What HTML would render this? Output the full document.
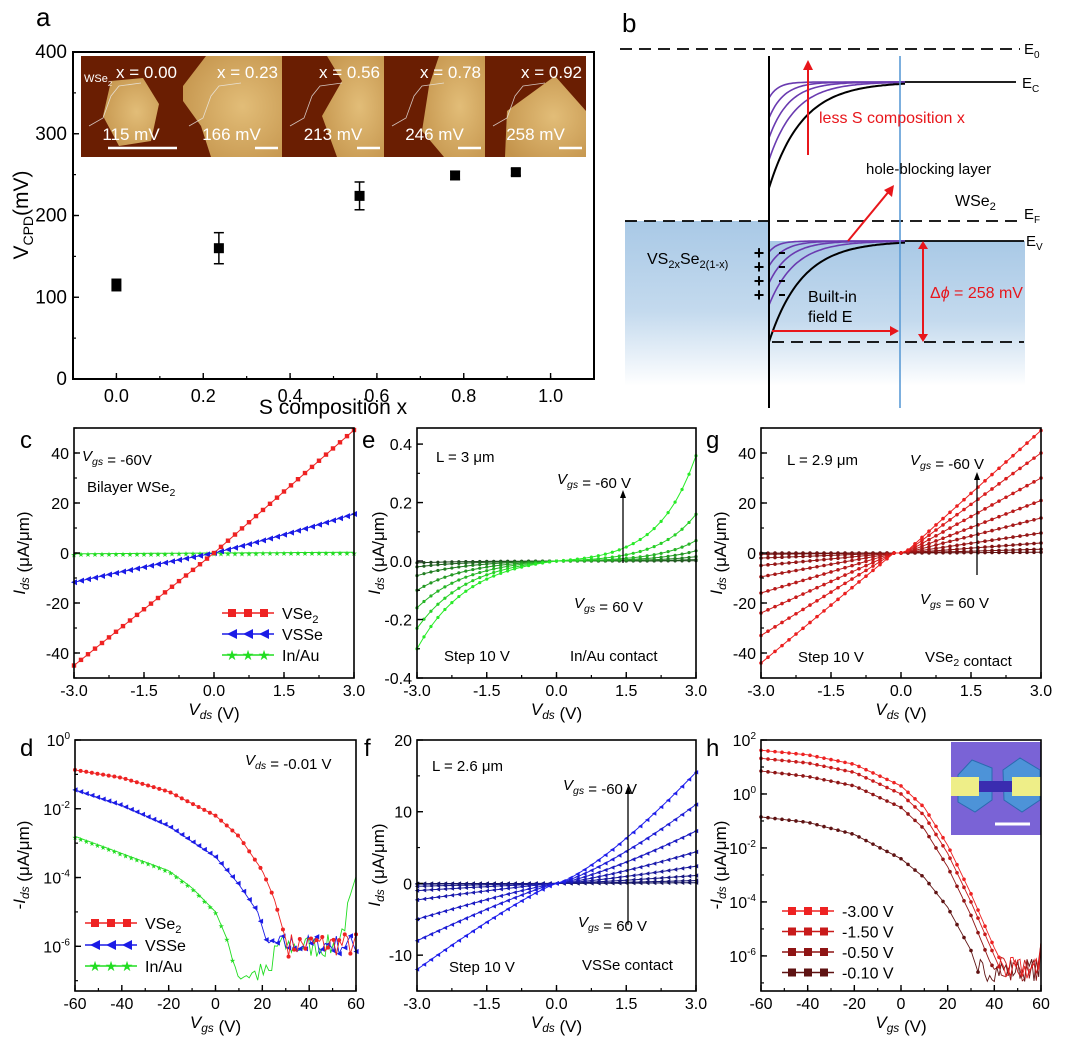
<!DOCTYPE html>
<html><head><meta charset="utf-8"><style>
html,body{margin:0;padding:0;background:#fff}
svg{display:block;font-family:"Liberation Sans",Arial,sans-serif}
</style></head><body>
<svg id="s" width="1067" height="1052" viewBox="0 0 1067 1052" xmlns="http://www.w3.org/2000/svg">
<defs>
<linearGradient id="bl" x1="0" y1="0" x2="0" y2="1"><stop offset="0" stop-color="#a9c9e6"/><stop offset="0.55" stop-color="#c4daee"/><stop offset="1" stop-color="#ffffff"/></linearGradient>
<radialGradient id="gd" cx="0.6" cy="0.5" r="0.7"><stop offset="0" stop-color="#e2bd78"/><stop offset="1" stop-color="#c4944c"/></radialGradient>
</defs>
</svg>
<script>
const NS='http://www.w3.org/2000/svg';
const svg=document.getElementById('s');
let H='';
function add(s){H+=s;}
function mk(x0,x1,y0,y1,xa,xb,ya,yb){return{x0,x1,y0,y1,xa,xb,ya,yb,
X:v=>x0+(v-xa)/(xb-xa)*(x1-x0),Y:v=>y1-(v-ya)/(yb-ya)*(y1-y0)};}
let seed=7;function rnd(){seed=(seed*16807)%2147483647;return seed/2147483647;}
function frame(P,sw){add(`<rect x="${P.x0}" y="${P.y0}" width="${P.x1-P.x0}" height="${P.y1-P.y0}" fill="none" stroke="#000" stroke-width="${sw}"/>`);}
function xt(P,maj,mino,fmt,fs,dy){for(const v of mino){const x=P.X(v);add(`<line x1="${x}" y1="${P.y1}" x2="${x}" y2="${P.y1-3}" stroke="#000" stroke-width="1.2"/>`);}
for(const v of maj){const x=P.X(v);add(`<line x1="${x}" y1="${P.y1}" x2="${x}" y2="${P.y1-6}" stroke="#000" stroke-width="1.4"/><text x="${x}" y="${P.y1+dy}" font-size="${fs}" text-anchor="middle">${fmt(v)}</text>`);}}
function yt(P,maj,mino,fmt,fs,dx){for(const v of mino){const y=P.Y(v);add(`<line x1="${P.x0}" y1="${y}" x2="${P.x0+3}" y2="${y}" stroke="#000" stroke-width="1.2"/>`);}
for(const v of maj){const y=P.Y(v);add(`<line x1="${P.x0}" y1="${y}" x2="${P.x0+6}" y2="${y}" stroke="#000" stroke-width="1.4"/><text x="${P.x0-dx}" y="${y+6}" font-size="${fs}" text-anchor="end">${fmt(v)}</text>`);}}
function rng(a,b,s){const r=[];for(let v=a;v<=b+1e-9;v+=s)r.push(+v.toFixed(6));return r;}
function poly(P,pts,col,w){add(`<polyline fill="none" stroke="${col}" stroke-width="${w}" points="${pts.map(p=>P.X(p[0]).toFixed(1)+','+P.Y(p[1]).toFixed(1)).join(' ')}"/>`);}
function marks(P,pts,col,type,sz,every){pts.forEach((p,i)=>{if(i%every)return;const x=P.X(p[0]),y=P.Y(p[1]);if(y<P.y0-1||y>P.y1+1)return;
if(type=='sq')add(`<rect x="${x-sz}" y="${y-sz}" width="${2*sz}" height="${2*sz}" fill="${col}"/>`);
else if(type=='tri')add(`<polygon points="${x-sz},${y} ${x+sz},${y-sz} ${x+sz},${y+sz}" fill="${col}"/>`);
else if(type=='star')add(`<text x="${x}" y="${y+3.5}" font-size="${sz*3.4}" text-anchor="middle" fill="${col}">★</text>`);
else add(`<circle cx="${x}" cy="${y}" r="${sz}" fill="${col}"/>`);});}
function lerpc(a,b,t){return `rgb(${a.map((v,i)=>Math.round(v+(b[i]-v)*t)).join(',')})`;}
function interp(cp,v){for(let i=0;i<cp.length-1;i++){if(v<=cp[i+1][0]){const t=(v-cp[i][0])/(cp[i+1][0]-cp[i][0]);return cp[i][1]+t*(cp[i+1][1]-cp[i][1]);}}return cp[cp.length-1][1];}
const sub=(t)=>`<tspan font-size="0.7em" dy="4">${t}</tspan><tspan dy="-4"></tspan>`;
const iv=(b,s)=>`<tspan font-style="italic">${b}</tspan><tspan font-style="italic" font-size="0.7em" dy="4">${s}</tspan><tspan dy="-4"></tspan>`;

/* ===== Panel a ===== */
const A=mk(73,594,52,379,-0.1,1.1,0,400);
const tiles=[[81,181,'x = 0.00','115 mV'],[181,282,'x = 0.23','166 mV'],[282,384,'x = 0.56','213 mV'],[384,485,'x = 0.78','246 mV'],[485,586,'x = 0.92','258 mV']];
tiles.forEach((t,i)=>{const x0=t[0],x1=t[1],w=x1-x0,y0=56,y1=157;
add(`<rect x="${x0}" y="${y0}" width="${w}" height="${y1-y0}" fill="#6a1e02"/>`);
let pts;
if(i==0)pts=[[x0+30,y0+25],[x0+62,y0+22],[x0+78,y0+48],[x0+70,y0+85],[x0+38,y0+90],[x0+22,y0+60]];
else if(i==1)pts=[[x0+25,y0],[x1,y0],[x1,y1],[x0+30,y1],[x0+20,y0+70],[x0+2,y0+45],[x0+2,y0+30]];
else if(i==2)pts=[[x0+45,y0],[x1,y0],[x1,y1],[x0+55,y1],[x0+40,y0+60],[x0+60,y0+25]];
else if(i==3)pts=[[x0+55,y0],[x1,y0],[x1,y1],[x0+60,y1],[x0+38,y0+75],[x0+45,y0+30]];
else pts=[[x0+70,y0+20],[x1,y0+55],[x1,y1],[x0+20,y1],[x0+22,y0+55]];
add(`<polygon points="${pts.map(p=>p.join(',')).join(' ')}" fill="url(#gd)"/>`);
add(`<text x="${x1-4}" y="${y0+22}" font-size="17" fill="#fff" text-anchor="end">${t[2]}</text>`);
add(`<text x="${x0+w/2}" y="${y0+84}" font-size="17" fill="#fff" text-anchor="middle">${t[3]}</text>`);
add(`<line x1="${i==0?x0+27:x1-27}" y1="${y0+92}" x2="${x1-4}" y2="${y0+92}" stroke="#fff" stroke-width="2.5"/>`);
add(`<polyline points="${x0+8},${y0+70} ${x0+22},${y0+62} ${x0+30},${y0+40} ${x0+38},${y0+30} ${x0+60},${y0+27}" fill="none" stroke="#eee" stroke-width="0.8" opacity="0.8"/>`);
});
add(`<text x="84" y="82" font-size="11" fill="#fff">WSe${sub('2')}</text>`);
frame(A,2);
xt(A,[0,0.2,0.4,0.6,0.8,1.0],rng(-0.1,1.1,0.1),v=>v.toFixed(1),18,23);
yt(A,[0,100,200,300,400],rng(0,400,50),v=>v,19,6);
[[0,115,7],[0.236,160,19],[0.56,224,17],[0.78,249,5],[0.92,253,4]].forEach(d=>{const x=A.X(d[0]),y=A.Y(d[1]),e1=A.Y(d[1]+d[2]),e2=A.Y(d[1]-d[2]);
add(`<line x1="${x}" y1="${e1}" x2="${x}" y2="${e2}" stroke="#000" stroke-width="1.5"/><line x1="${x-5}" y1="${e1}" x2="${x+5}" y2="${e1}" stroke="#000" stroke-width="1.5"/><line x1="${x-5}" y1="${e2}" x2="${x+5}" y2="${e2}" stroke="#000" stroke-width="1.5"/><rect x="${x-5}" y="${y-5}" width="10" height="10" fill="#000"/>`);});
add(`<text x="333" y="414" font-size="21" text-anchor="middle">S composition x</text>`);
add(`<text transform="translate(28,215) rotate(-90)" font-size="21" text-anchor="middle">V<tspan font-size="14" dy="5">CPD</tspan><tspan dy="-5">(mV)</tspan></text>`);
add(`<text x="36" y="26" font-size="26">a</text><text x="622" y="32" font-size="26">b</text>`);

/* ===== Panel b ===== */
add(`<rect x="625" y="221" width="144" height="165" fill="url(#bl)"/><rect x="769" y="241" width="256" height="145" fill="url(#bl)"/>`);
const dash='stroke="#000" stroke-width="1.8" stroke-dasharray="12,7"';
add(`<line x1="620" y1="49" x2="1020" y2="49" ${dash}/><line x1="625" y1="221" x2="1022" y2="221" ${dash}/><line x1="772" y1="342" x2="1024" y2="342" ${dash}/>`);
add(`<line x1="900" y1="82" x2="1016" y2="82" stroke="#000" stroke-width="1.8"/><line x1="900" y1="241" x2="1024" y2="241" stroke="#000" stroke-width="1.8"/>`);
function bcurve(ys,yf,tau,col,w){let p=[];for(let x=769;x<=905;x+=2){p.push(x+','+(yf+(ys-yf)*Math.exp(-(x-769)/tau)).toFixed(1));}add(`<polyline points="${p.join(' ')}" fill="none" stroke="${col}" stroke-width="${w}"/>`);}
[[98,9],[118,15],[138,20],[160,26]].forEach(c=>bcurve(c[0],82,c[1],'#6a3bb0',1.6));bcurve(188,82,33,'#000',2);
[[252,9],[266,15],[283,20],[305,26]].forEach(c=>bcurve(c[0],241,c[1],'#6a3bb0',1.6));bcurve(342,241,33,'#000',2);
add(`<line x1="769" y1="56" x2="769" y2="408" stroke="#000" stroke-width="2"/><line x1="900" y1="56" x2="900" y2="408" stroke="#5b9bd5" stroke-width="1.6"/>`);
add(`<line x1="808" y1="155" x2="808" y2="68" stroke="#e8161b" stroke-width="2"/><polygon points="803,70 813,70 808,60" fill="#e8161b"/>`);
add(`<line x1="848" y1="241" x2="890" y2="190" stroke="#e8161b" stroke-width="2"/><polygon points="884,190 894,185 892,197" fill="#e8161b"/>`);
add(`<line x1="772" y1="331" x2="892" y2="331" stroke="#e8161b" stroke-width="2"/><polygon points="890,326 899,331 890,336" fill="#e8161b"/>`);
add(`<line x1="923" y1="248" x2="923" y2="335" stroke="#e8161b" stroke-width="2"/><polygon points="918,249 928,249 923,241" fill="#e8161b"/><polygon points="918,334 928,334 923,342" fill="#e8161b"/>`);
add(`<text x="819" y="123" font-size="16" fill="#e8161b">less S composition x</text>`);
add(`<text x="866" y="174" font-size="15">hole-blocking layer</text><text x="955" y="206" font-size="16">WSe${sub('2')}</text>`);
add(`<text x="647" y="264" font-size="16">VS<tspan font-size="11" dy="4">2x</tspan><tspan dy="-4">Se</tspan><tspan font-size="11" dy="4">2(1-x)</tspan></text>`);
add(`<text x="808" y="302" font-size="16">Built-in</text><text x="808" y="322" font-size="16">field E</text>`);
add(`<text x="930" y="298" font-size="16" fill="#e8161b">Δ<tspan font-style="italic">ϕ</tspan> = 258 mV</text>`);
[254,268,282,296].forEach(y=>add(`<text x="759" y="${y+5}" font-size="18" text-anchor="middle" font-weight="bold">+</text><line x1="779" y1="${y-1}" x2="785" y2="${y-1}" stroke="#000" stroke-width="2"/>`));
add(`<text x="1024" y="54" font-size="15">E<tspan font-size="10" dy="4">0</tspan></text><text x="1022" y="88" font-size="15">E<tspan font-size="10" dy="4">C</tspan></text><text x="1024" y="219" font-size="15">E<tspan font-size="10" dy="4">F</tspan></text><text x="1026" y="246" font-size="15">E<tspan font-size="10" dy="4">V</tspan></text>`);

/* ===== lower panels ===== */
const C=mk(74,354,428,678,-3,3,-50,50),E=mk(417,696,428,678,-3,3,-0.4,0.455),G=mk(761,1041,428,678,-3,3,-50,50);
const D=mk(75,356,740,991,-60,60,-7.3,0),F=mk(417,696,740,991,-3,3,-15,20),Hh=mk(761,1041,740,991,-60,60,-7.3,2);
const vx=[-3,-1.5,0,1.5,3],vm=rng(-3,3,0.75),fv=v=>v.toFixed(1);
const FS=16;
let p1=[],p2=[],p3=[];for(let v=-3;v<=3.001;v+=0.15){p1.push([v,v>=0?v*16.4:v*15]);p2.push([v,v>=0?v*4.6+v*v*0.2:v*3.6+ -v*v*0.1]);p3.push([v,0.1*v]);}
poly(C,p3,'#22dd22',1);marks(C,p3,'#22dd22','star',2.2,1);poly(C,p2,'#1b1be6',1);marks(C,p2,'#1b1be6','tri',3,1);poly(C,p1,'#ee2222',1);marks(C,p1,'#ee2222','sq',2.2,1);
const EP=[0.36,0.16,0.07,0.035,0.015,0.005,0.001],EN=[0.3,0.23,0.16,0.1,0.05,0.02,0.006];
for(let k=6;k>=0;k--){let p=[];for(let v=-3;v<=3.001;v+=0.15){p.push([v,v>=0?EP[k]*(Math.exp(1.25*v)-1)/(Math.exp(3.75)-1):-EN[k]*(Math.exp(-0.9*v)-1)/(Math.exp(2.7)-1)]);}
const c=lerpc([40,235,40],[30,70,30],k/6);poly(E,p,c,1);marks(E,p,c,'dot',1.6,1);}
const GP=[49,40,30,21,14,8,4,1.5,0.3],GN=[44,33,24,16,9.5,5,2,0.5,0.05];
for(let k=8;k>=0;k--){let p=[];for(let v=-3;v<=3.001;v+=0.15){p.push([v,v>=0?GP[k]*Math.max(0,v-0.08)/2.92:-GN[k]*Math.max(0,-v-0.15)/2.85]);}
const c=lerpc([235,30,30],[95,15,15],k/8);poly(G,p,c,1);marks(G,p,c,'dot',1.8,1);}
const FP=[15.5,11,7.3,4.4,2.4,1.1,0.4,0.1],FN=[12,8,5,2.3,1,0.4,0.1,0.02];
for(let k=7;k>=0;k--){let p=[];for(let v=-3;v<=3.001;v+=0.15){p.push([v,v>=0?FP[k]*Math.pow(v/3,1.3):-FN[k]*Math.pow(-v/3,1.15)]);}
const c=lerpc([30,30,235],[20,20,90],k/7);poly(F,p,c,1);marks(F,p,c,'tri',2.2,1);}
function logc(cp,ymax,noiseStart,noiseLvl,amp,step){let p=[];for(let v=-60;v<=60.001;v+=step){let y;if(v<noiseStart)y=interp(cp,v);else y=(typeof noiseLvl=='function'?noiseLvl(v):noiseLvl)+(rnd()-0.5)*amp;p.push([v,Math.max(-7.3,Math.min(ymax,y))]);}return p;}
const dr=logc([[-60,-0.87],[-40,-1.1],[-20,-1.5],[0,-2.2],[10,-2.8],[20,-3.8],[25,-4.6],[30,-5.8]],0,31,-5.95,0.7,1.2);
const db=logc([[-60,-1.45],[-40,-1.9],[-20,-2.5],[0,-3.4],[10,-4.2],[18,-5],[22,-5.9]],0,23,-5.95,0.6,1.2);
const dg=logc([[-60,-2.8],[-40,-3.3],[-20,-3.8],[-10,-4.3],[0,-5.0],[5,-5.8],[8,-6.6]],0,9,v=>v<25?-6.8:(v<52?-6.0:-6+(v-52)*0.22),0.7,1.2);
poly(D,dg,'#22dd22',0.9);marks(D,dg.filter(p=>p[0]<8),'#22dd22','star',2,2);
poly(D,db,'#1b1be6',0.9);marks(D,db,'#1b1be6','tri',2.6,2);
poly(D,dr,'#ee2222',0.9);marks(D,dr,'#ee2222','dot',2,2);
const hcols=['#ee2222','#c81a1a','#8e1414','#5e1212'];
const hcp=[[[-60,1.62],[-40,1.45],[-20,1.1],[0,0.3],[10,-0.5],[20,-1.9],[30,-3.7],[40,-5.7],[44,-6.4]],
[[-60,1.32],[-40,1.15],[-20,0.8],[0,0.0],[10,-0.8],[20,-2.2],[30,-4.0],[40,-6.0],[42,-6.4]],
[[-60,0.85],[-40,0.65],[-20,0.3],[0,-0.5],[10,-1.3],[20,-2.7],[30,-4.5],[38,-6.2],[40,-6.5]],
[[-60,-0.85],[-40,-1.05],[-20,-1.5],[0,-2.4],[10,-3.1],[20,-4.2],[30,-5.8],[33,-6.6]]];
const hst=[45,43,41,34];
for(let k=3;k>=0;k--){const p=logc(hcp[k],2,hst[k],-6.5,0.9,1);
p[p.length-1][1]=-5.5;poly(Hh,p,hcols[k],0.9);marks(Hh,p.filter(q=>q[0]<hst[k]),hcols[k],'dot',1.8,3);}
add(`<rect x="951" y="742" width="90" height="93" fill="#7a63d6"/><polygon points="958,775 972,760 992,768 992,800 975,812 958,802" fill="#4d93d8" stroke="#2b6ab0"/><polygon points="1003,770 1020,758 1040,770 1040,800 1022,812 1004,800" fill="#4d93d8" stroke="#2b6ab0"/><rect x="951" y="777" width="28" height="19" fill="#eeee88"/><rect x="1012" y="777" width="29" height="19" fill="#eeee88"/><rect x="979" y="781" width="33" height="11" fill="#3a2cb0"/><line x1="995" y1="824" x2="1030" y2="824" stroke="#fff" stroke-width="3"/>`);
[C,E,G,D,F,Hh].forEach(P=>frame(P,1.6));
xt(C,vx,vm,fv,FS,18);xt(E,vx,vm,fv,FS,18);xt(G,vx,vm,fv,FS,18);xt(F,vx,vm,fv,FS,18);
const gx=[-60,-40,-20,0,20,40,60];xt(D,gx,rng(-60,60,10),v=>v,FS,18);xt(Hh,gx,rng(-60,60,10),v=>v,FS,18);
yt(C,[-40,-20,0,20,40],rng(-50,50,10),v=>v,FS,5);yt(G,[-40,-20,0,20,40],rng(-50,50,10),v=>v,FS,5);
yt(E,[-0.4,-0.2,0,0.2,0.4],rng(-0.4,0.4,0.1),v=>v.toFixed(1),FS,5);
yt(F,[-10,0,10,20],rng(-15,20,5),v=>v,FS,5);
const pw=v=>`10<tspan font-size="10" dy="-7">${v}</tspan>`;
yt(D,[0,-2,-4,-6],rng(-7,0,1),pw,FS,5);yt(Hh,[2,0,-2,-4,-6],rng(-7,2,1),pw,FS,5);
[[C,'ds'],[E,'ds'],[G,'ds'],[F,'ds']].forEach(a=>add(`<text x="${(a[0].x0+a[0].x1)/2}" y="${a[0].y1+37}" font-size="17" text-anchor="middle">${iv('V','ds')}  (V)</text>`));
[D,Hh].forEach(P=>add(`<text x="${(P.x0+P.x1)/2}" y="${P.y1+37}" font-size="17" text-anchor="middle">${iv('V','gs')}  (V)</text>`));
[[C,25],[E,380],[G,722]].forEach(a=>add(`<text transform="translate(${a[1]},${(a[0].y0+a[0].y1)/2}) rotate(-90)" font-size="17" text-anchor="middle">${iv('I','ds')} (μA/μm)</text>`));
add(`<text transform="translate(380,865) rotate(-90)" font-size="17" text-anchor="middle">${iv('I','ds')} (μA/μm)</text>`);
[[D,25],[Hh,722]].forEach(a=>add(`<text transform="translate(${a[1]},865) rotate(-90)" font-size="17" text-anchor="middle">-${iv('I','ds')} (μA/μm)</text>`));
[['c',20,448],['e',362,448],['g',706,448],['d',20,756],['f',364,756],['h',706,756]].forEach(l=>add(`<text x="${l[1]}" y="${l[2]}" font-size="24">${l[0]}</text>`));
const T=(x,y,s,fs,c)=>add(`<text x="${x}" y="${y}" font-size="${fs||15}" ${c?'fill="'+c+'"':''}>${s}</text>`);
T(82,461,iv('V','gs')+' = -60V');T(87,492,'Bilayer WSe'+sub('2'));
T(436,462,'L = 3 μm');T(557,484,iv('V','gs')+' = -60 V');T(574,608,iv('V','gs')+' = 60 V');T(444,661,'Step 10 V');T(570,661,'In/Au contact');
T(787,465,'L = 2.9 μm');T(910,465,iv('V','gs')+' = -60 V');T(920,604,iv('V','gs')+' = 60 V');T(798,662,'Step 10 V');T(925,662,'VSe'+sub('2')+' contact');
T(245,765,iv('V','ds')+' = -0.01 V');
T(432,771,'L = 2.6 μm');T(563,790,iv('V','gs')+' = -60 V');T(578,927,iv('V','gs')+' = 60 V');T(449,972,'Step 10 V');T(582,970,'VSSe contact');
const arr=(x,y1,y2)=>add(`<line x1="${x}" y1="${y1}" x2="${x}" y2="${y2+6}" stroke="#000" stroke-width="1.3"/><polygon points="${x-3},${y2+8} ${x+3},${y2+8} ${x},${y2}" fill="#000"/>`);
arr(623,563,490);arr(977,575,472);arr(628,925,786);
function leg(x,y,col,type,label){add(`<line x1="${x}" y1="${y}" x2="${x+52}" y2="${y}" stroke="${col}" stroke-width="1.5"/>`);for(let i=0;i<3;i++){const xx=x+10+i*16;if(type=='sq')add(`<rect x="${xx-4}" y="${y-4}" width="8" height="8" fill="${col}"/>`);else if(type=='tri')add(`<polygon points="${xx-5},${y} ${xx+5},${y-5} ${xx+5},${y+5}" fill="${col}"/>`);else add(`<text x="${xx}" y="${y+5}" font-size="14" text-anchor="middle" fill="${col}">★</text>`);}
add(`<text x="${x+60}" y="${y+6}" font-size="16">${label}</text>`);}
leg(222,613,'#ee2222','sq','VSe'+sub('2'));leg(222,634,'#1b1be6','tri','VSSe');leg(222,655,'#22dd22','star','In/Au');
leg(85,923,'#ee2222','sq','VSe'+sub('2'));leg(85,945,'#1b1be6','tri','VSSe');leg(85,966,'#22dd22','star','In/Au');
['-3.00 V','-1.50 V','-0.50 V','-0.10 V'].forEach((s,i)=>leg(782,911+i*20.5,hcols[i],'sq',s));
svg.insertAdjacentHTML('beforeend',H);
</script>
</body></html>
